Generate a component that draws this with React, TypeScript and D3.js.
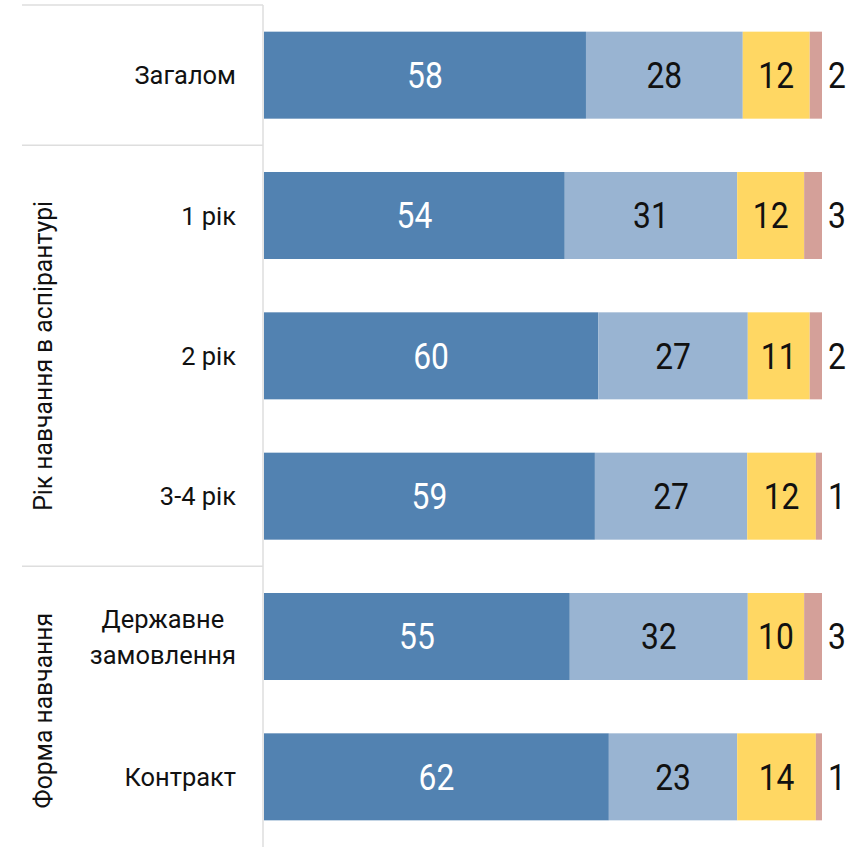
import React, { useEffect, useRef } from "react";
import * as d3 from "d3";

const categories = ["Загалом", "1 рік", "2 рік", "3-4 рік", "Державне\nзамовлення", "Контракт"];
const seriesA = [57.7, 53.9, 59.9, 59.3, 54.8, 61.8];
const seriesB = [28.1, 30.9, 26.8, 27.3, 31.9, 23.0];
const seriesC = [12.0, 12.0, 11.1, 12.3, 10.1, 14.1];
const seriesD = [2.2, 3.2, 2.2, 1.1, 3.2, 1.1];
const labelsA = [58, 54, 60, 59, 55, 62];
const labelsB = [28, 31, 27, 27, 32, 23];
const labelsC = [12, 12, 11, 12, 10, 14];
const labelsD = [2, 3, 2, 1, 3, 1];
const groups = [
  { name: "", from: 0, to: 0 },
  { name: "Рік навчання в аспірантурі", from: 1, to: 3 },
  { name: "Форма навчання", from: 4, to: 5 },
];
const colors = ["#5282b1", "#99b4d2", "#ffd763", "#d4a099"];
const textColors = ["#ffffff", "#111111", "#111111", "#111111"];

const W = 855;
const H = 847;
const FONT = "Roboto, 'Noto Sans', sans-serif";
const SX = 0.86;
const SX_CAT = 0.96;
const SX_GROUP = 0.95;

export default function App() {
  const ref = useRef<SVGSVGElement>(null);
  useEffect(() => {
    const svg = d3.select(ref.current);
    svg.selectAll("*").remove();
    const top = 5;
    const x0 = 264;
    const y = d3.scaleBand<number>().domain(d3.range(categories.length)).range([top, H]).paddingInner(0.38).paddingOuter(0.19);
    const x = d3.scaleLinear().domain([0, 100]).range([x0, 822]);
    const series = [seriesA, seriesB, seriesC, seriesD];
    const labels = [labelsA, labelsB, labelsC, labelsD];
    const step = y.step();
    const bandTop = (i: number) => (y(i) as number) - (step - y.bandwidth()) / 2;

    const lineColor = "#dedede";
    svg.append("line").attr("x1", 22).attr("x2", 263).attr("y1", top).attr("y2", top).attr("stroke", lineColor).attr("stroke-width", 1.5);
    svg.append("line").attr("x1", 263).attr("x2", 263).attr("y1", top).attr("y2", H).attr("stroke", lineColor).attr("stroke-width", 1.5);
    groups.forEach((g) => {
      const yy = bandTop(g.to) + step;
      if (g.to < categories.length - 1) {
        svg.append("line").attr("x1", 22).attr("x2", 263).attr("y1", yy).attr("y2", yy).attr("stroke", lineColor).attr("stroke-width", 1.5);
      }
      if (g.name) {
        const cy = (bandTop(g.from) + bandTop(g.to) + step) / 2;
        svg.append("text")
          .attr("transform", `translate(52,${cy + (g.to === categories.length - 1 ? 4 : 0)}) rotate(-90) scale(${SX_GROUP},1)`)
          .attr("text-anchor", "middle")
          .attr("font-family", FONT)
          .attr("font-size", 26)
          .attr("fill", "#111")
          .text(g.name);
      }
    });

    categories.forEach((c, i) => {
      const lines = c.split("\n");
      const cy = (y(i) as number) + y.bandwidth() / 2;
      const lh = 36;
      const g = svg.append("g");
      const texts = lines.map((ln, k) =>
        g.append("text")
          .attr("font-family", FONT)
          .attr("font-size", 26.5)
          .attr("fill", "#111")
          .attr("text-anchor", "middle")
          .attr("dominant-baseline", "central")
          .attr("y", cy + (k - (lines.length - 1) / 2) * lh)
          .text(ln)
      );
      const maxW = d3.max(texts, (t) => (t.node() as SVGTextElement).getComputedTextLength()) as number;
      texts.forEach((t) => {
        const yy = +t.attr("y");
        t.attr("y", null).attr("transform", `translate(${236 - (maxW * SX_CAT) / 2},${yy}) scale(${SX_CAT},1)`);
      });
    });

    categories.forEach((_, i) => {
      let acc = 0;
      series.forEach((s, k) => {
        const v = s[i];
        const xs = x(acc);
        const xe = x(acc + v);
        acc += v;
        svg.append("rect")
          .attr("x", xs)
          .attr("y", y(i) as number)
          .attr("width", Math.max(0, xe - xs))
          .attr("height", y.bandwidth())
          .attr("fill", colors[k]);
        const cy = (y(i) as number) + y.bandwidth() / 2;
        const outside = k === series.length - 1;
        const tx = outside ? xe + 6 : (xs + xe) / 2;
        svg.append("text")
          .attr("transform", `translate(${tx},${cy}) scale(${SX},1)`)
          .attr("text-anchor", outside ? "start" : "middle")
          .attr("dominant-baseline", "central")
          .attr("font-family", FONT)
          .attr("font-size", 37)
          .attr("fill", outside ? "#111" : textColors[k])
          .text(String(labels[k][i]));
      });
    });
  }, []);
  return (
    <svg ref={ref} width={W} height={H} style={{ position: "absolute", left: 0, top: 0, background: "#fff" }} />
  );
}
